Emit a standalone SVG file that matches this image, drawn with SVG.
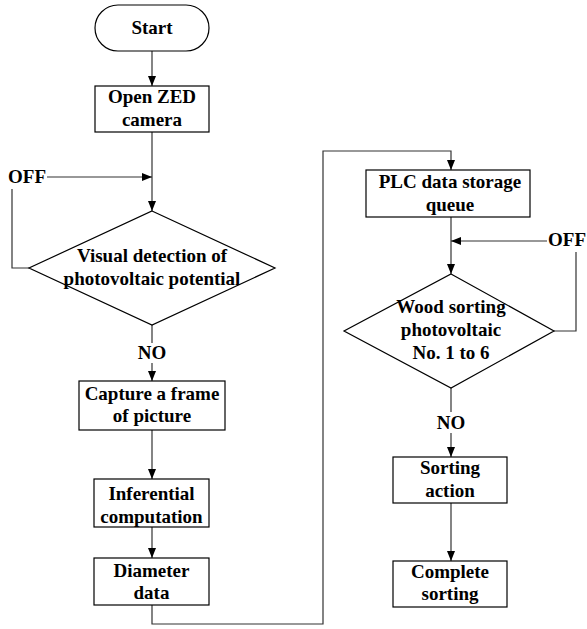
<svg xmlns="http://www.w3.org/2000/svg" width="587" height="629" viewBox="0 0 587 629">
<defs>
<marker id="arr" markerWidth="10" markerHeight="10" refX="10" refY="5" orient="auto" markerUnits="userSpaceOnUse">
<path d="M0,1 L10,5 L0,9 Z" fill="#000"/>
</marker>
</defs>
<style>
.s{fill:#fff;stroke:#000;stroke-width:1.2}
.c{fill:none;stroke:#333;stroke-width:1.2}
.a{marker-end:url(#arr)}
text{font-family:"Liberation Serif","Times New Roman",serif;font-weight:bold;font-size:19px;fill:#000;text-anchor:middle}
</style>
<rect width="587" height="629" fill="#fff"/>
<g id="connectors">
<path class="c a" d="M152,51 V86"/>
<path class="c a" d="M152,132 V211"/>
<path class="c a" d="M47,177 H152"/>
<path class="c" d="M29,268 H12 V189"/>
<path class="c" d="M152,325 V343"/>
<path class="c a" d="M152,363 V381"/>
<path class="c a" d="M152,430 V479"/>
<path class="c a" d="M152,527 V558"/>
<path class="c a" d="M152,605 V624 H323 V151 H451 V170"/>
<path class="c a" d="M451,217 V274"/>
<path class="c a" d="M547,241 H451"/>
<path class="c" d="M554,331 H576 V252"/>
<path class="c" d="M451,388 V412"/>
<path class="c a" d="M451,433 V457"/>
<path class="c a" d="M451,503 V561"/>
</g>
<g id="start">
<rect class="s" x="95" y="5" width="114" height="46" rx="23" ry="23"/>
<text x="152" y="34">Start</text>
</g>
<g id="open-zed">
<rect class="s" x="95" y="86" width="114" height="46"/>
<text x="152" y="103">Open ZED</text>
<text x="152" y="126">camera</text>
</g>
<g id="off-left">
<text x="27" y="183">OFF</text>
</g>
<g id="visual-detection">
<polygon class="s" points="152,211 275,268 152,325 29,268"/>
<text x="152" y="262">Visual detection of</text>
<text x="152" y="285">photovoltaic potential</text>
</g>
<g id="no-left">
<text x="152" y="359">NO</text>
</g>
<g id="capture">
<rect class="s" x="79" y="381" width="146" height="49"/>
<text x="152" y="400">Capture a frame</text>
<text x="152" y="422">of picture</text>
</g>
<g id="inferential">
<rect class="s" x="94" y="479" width="115" height="48"/>
<text x="151.5" y="500">Inferential</text>
<text x="151.5" y="523">computation</text>
</g>
<g id="diameter">
<rect class="s" x="94" y="558" width="115" height="47"/>
<text x="151.5" y="577">Diameter</text>
<text x="151.5" y="599">data</text>
</g>
<g id="plc">
<rect class="s" x="366" y="170" width="164" height="47"/>
<text x="450" y="188">PLC data storage</text>
<text x="450" y="211">queue</text>
</g>
<g id="off-right">
<text x="567" y="246">OFF</text>
</g>
<g id="wood-sorting">
<polygon class="s" points="451,274 554,331 451,388 344,331"/>
<text x="451" y="313">Wood sorting</text>
<text x="451" y="336">photovoltaic</text>
<text x="451" y="359">No. 1 to 6</text>
</g>
<g id="no-right">
<text x="451" y="429">NO</text>
</g>
<g id="sorting-action">
<rect class="s" x="393" y="457" width="114" height="46"/>
<text x="450" y="474">Sorting</text>
<text x="450" y="497">action</text>
</g>
<g id="complete-sorting">
<rect class="s" x="393" y="561" width="114" height="46"/>
<text x="450" y="578">Complete</text>
<text x="450" y="600">sorting</text>
</g>
</svg>
